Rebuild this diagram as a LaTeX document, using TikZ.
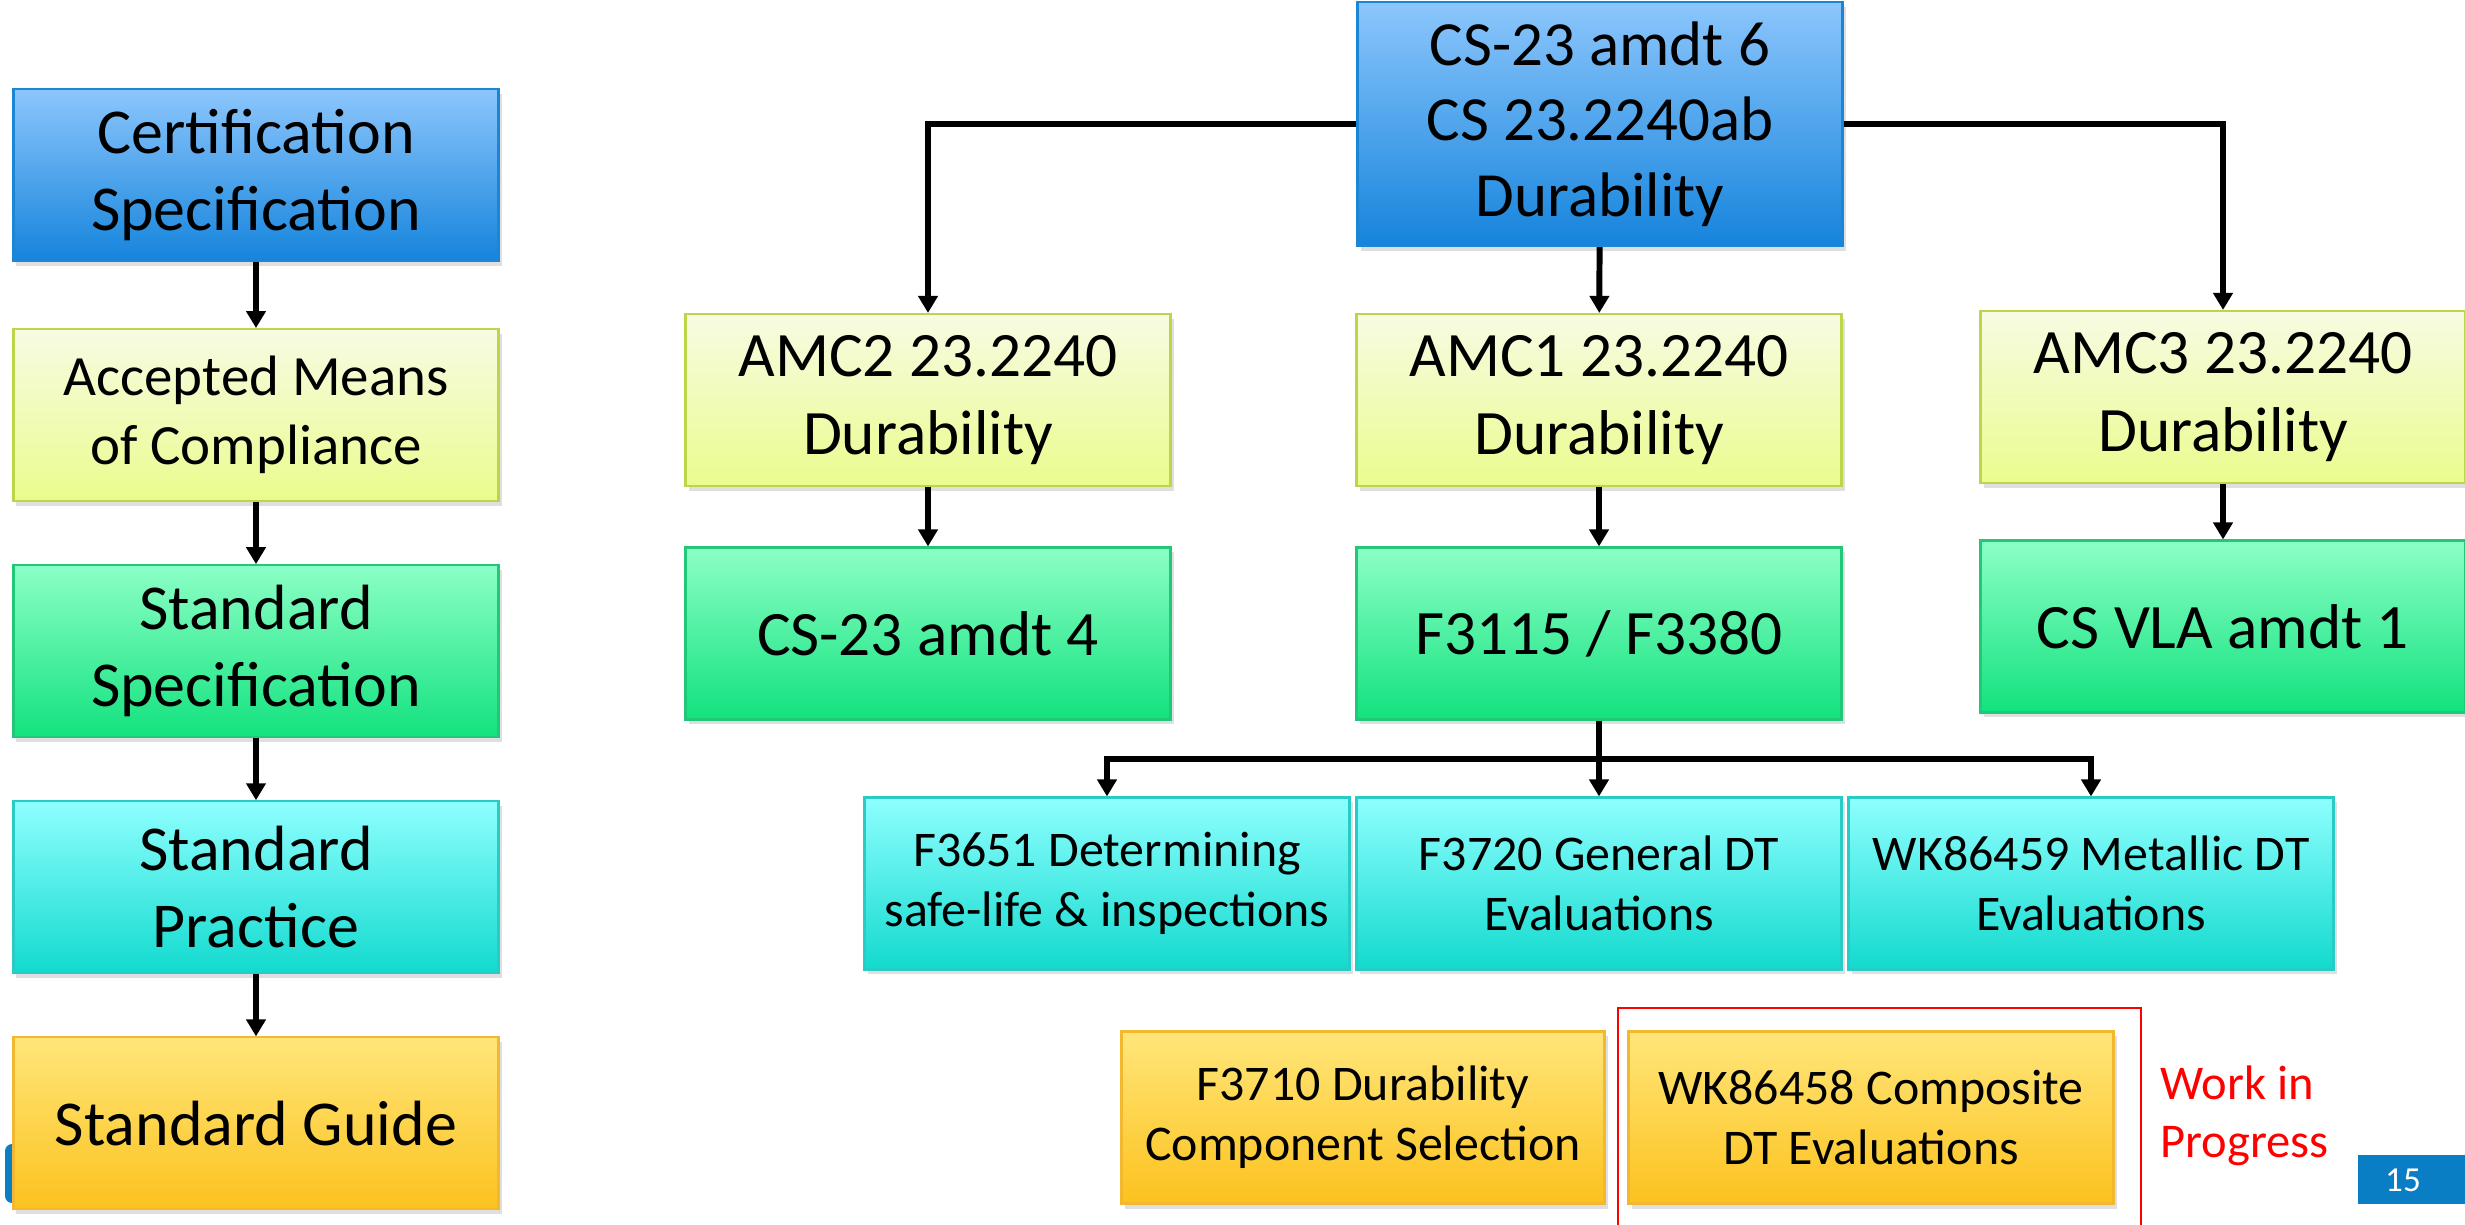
\documentclass[tikz,border=0pt]{standalone}
\usepackage{fontspec}
\setmainfont{Carlito}
\usetikzlibrary{positioning,arrows.meta,shadows}

\definecolor{blueTop}{HTML}{8CC6FC}
\definecolor{blueBot}{HTML}{1584DC}
\definecolor{blueLine}{HTML}{1C86D4}
\definecolor{limeTop}{HTML}{F7FBE2}
\definecolor{limeBot}{HTML}{EAFC8E}
\definecolor{limeLine}{HTML}{BCD64A}
\definecolor{greenTop}{HTML}{8CFFC6}
\definecolor{greenBot}{HTML}{12E27E}
\definecolor{greenLine}{HTML}{20C878}
\definecolor{cyanTop}{HTML}{8EFFFF}
\definecolor{cyanBot}{HTML}{12DACE}
\definecolor{cyanLine}{HTML}{28CCC4}
\definecolor{goldTop}{HTML}{FFE67A}
\definecolor{goldBot}{HTML}{FCC21E}
\definecolor{goldLine}{HTML}{F2B830}
\definecolor{slideBlue}{HTML}{0A7EC4}

\tikzset{
	chartbox/.style={rectangle, minimum width=4.85cm, minimum height=1.72cm, align=center, inner sep=2pt, line width=0.6pt,
		drop shadow={shadow xshift=0.03cm, shadow yshift=-0.05cm, opacity=0.25}},
	multi/.style={execute at begin node={\rule{0pt}{1.05em}}},	%multi-line text sits a bit lower
	certbox/.style={chartbox, draw=blueLine, top color=blueTop, bottom color=blueBot},
	amcbox/.style={chartbox, draw=limeLine, top color=limeTop, bottom color=limeBot},
	specbox/.style={chartbox, draw=greenLine, top color=greenTop, bottom color=greenBot},
	practbox/.style={chartbox, draw=cyanLine, top color=cyanTop, bottom color=cyanBot},
	guidebox/.style={chartbox, draw=goldLine, top color=goldTop, bottom color=goldBot},
	arr/.style={-{Triangle[length=0.17cm,width=0.19cm]}, line width=1.7pt},
}

\begin{document}
\begin{tikzpicture}
	\def\big{\fontsize{18.2}{21.9}\selectfont}	%left column text
	\def\mid{\fontsize{18}{22.2}\selectfont}	%amc + spec text
	\def\sml{\fontsize{14.2}{17}\selectfont}	%practice + guide text
	\useasboundingbox (0,0) rectangle (24.65,-12.25);
	
	%SLIDE LEFTOVERS
	\fill[slideBlue, rounded corners=2pt] (0.05,-11.44) rectangle (0.4,-12.03);
	\fill[slideBlue] (23.58,-11.55) rectangle (24.65,-12.04);
	\node[text=white, font=\fontsize{10}{12}\selectfont] (pgnum) at (24.03,-11.8) {15};
	
	%LEFT COLUMN
	\node[certbox, multi, font=\big] (cert) at (2.56,-1.75) {Certification\\Specification};
	\node[amcbox, multi, font=\fontsize{16.2}{19.7}\selectfont, below=0.66cm of cert] (amc) {Accepted Means\\of Compliance};
	\node[specbox, multi, font=\big, below=0.62cm of amc] (spec) {Standard\\Specification};
	\node[practbox, multi, font=\big, below=0.62cm of spec] (pract) {Standard\\Practice};
	\node[guidebox, font=\big, below=0.62cm of pract] (guide) {Standard Guide};
	\draw[arr] (cert) -- (amc);
	\draw[arr] (amc) -- (spec);
	\draw[arr] (spec) -- (pract);
	\draw[arr] (pract) -- (guide);
	
	%TOP OF TREE
	\node[certbox, multi, minimum height=2.44cm, font=\fontsize{17.9}{21.5}\selectfont] (cs23) at (16.0,-1.24) {CS-23 amdt 6\\CS 23.2240ab\\Durability};
	
	%AMC ROW
	\node[amcbox, multi, font=\mid] (amc2) at (9.28,-4.0) {AMC2 23.2240\\Durability};
	\node[amcbox, multi, font=\mid] (amc1) at (15.99,-4.0) {AMC1 23.2240\\Durability};
	\node[amcbox, multi, font=\mid] (amc3) at (22.23,-3.97) {AMC3 23.2240\\Durability};
	\draw[arr] (cs23.west) -| (amc2.north);
	\draw[arr] (cs23) -- (amc1);
	\draw[arr] (cs23.east) -| (amc3.north);
	
	%SPECIFICATIONS
	\node[specbox, font=\mid] (cs4) at (9.28,-6.335) {CS-23 amdt 4};
	\node[specbox, font=\mid] (f3115) at (15.99,-6.335) {F3115 / F3380};
	\node[specbox, font=\mid] (csvla) at (22.23,-6.265) {CS VLA amdt 1};
	\draw[arr] (amc2) -- (cs4);
	\draw[arr] (amc1) -- (f3115);
	\draw[arr] (amc3) -- (csvla);
	
	%PRACTICES
	\node[practbox, multi, font=\sml] (f3651) at (11.07,-8.835) {F3651 Determining\\safe-life \& inspections};
	\node[practbox, multi, font=\sml] (f3720) at (15.99,-8.835) {F3720 General DT\\Evaluations};
	\node[practbox, multi, font=\sml] (wk86459) at (20.91,-8.835) {WK86459 Metallic DT\\Evaluations};
	\coordinate[below=0.38cm of f3115.south] (fork);
	\draw[arr] (fork) -| (f3651.north);
	\draw[arr] (fork) -| (wk86459.north);
	\draw[arr] (f3115) -- (f3720);
	
	%GUIDES
	\node[guidebox, multi, font=\sml, minimum width=4.83cm] (f3710) at (13.63,-11.175) {F3710 Durability\\Component Selection};
	\node[guidebox, multi, font=\sml] (wk86458) at (18.71,-11.175) {WK86458 Composite\\DT Evaluations};
	\draw[red, line width=0.7pt] (16.18,-12.3) -- (16.18,-10.08) -- (21.41,-10.08) -- (21.41,-12.3);
	\node[anchor=west, align=left, text=red, font=\fontsize{13.8}{16.5}\selectfont] (wip) at (21.48,-11.16) {Work in\\Progress};
\end{tikzpicture}
\end{document}
